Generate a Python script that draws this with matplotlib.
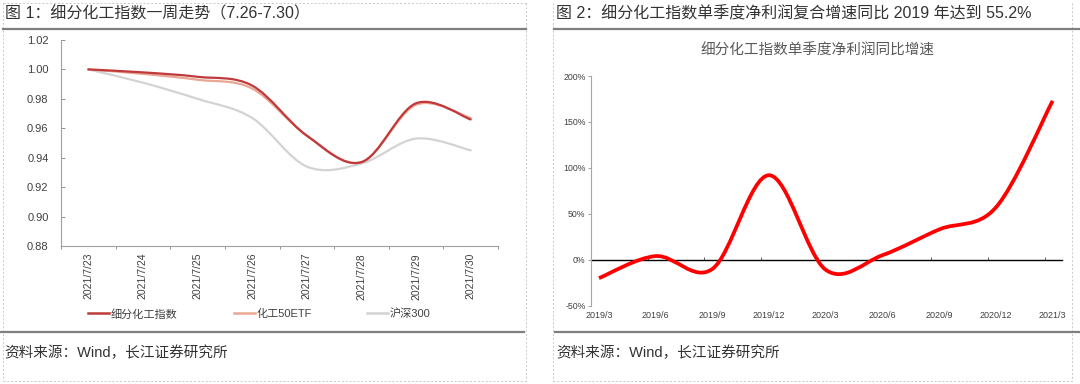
import numpy as np
import matplotlib
matplotlib.use('Agg')
import matplotlib.pyplot as plt
from matplotlib.path import Path
from matplotlib.patches import PathPatch
from matplotlib.lines import Line2D
from matplotlib.ticker import FormatStrFormatter, PercentFormatter, NullFormatter

plt.rcParams['font.family'] = ['Liberation Sans', 'Noto Sans CJK SC', 'DejaVu Sans']
plt.rcParams['axes.unicode_minus'] = False

# ---------------- data ----------------
dates = ['2021/7/23', '2021/7/24', '2021/7/25', '2021/7/26',
         '2021/7/27', '2021/7/28', '2021/7/29', '2021/7/30']
chem_index = [1.000, 0.998, 0.995, 0.989, 0.955, 0.937, 0.977, 0.966]
chem_etf = [1.000, 0.997, 0.993, 0.987, 0.955, 0.937, 0.976, 0.967]
hs300 = [1.000, 0.991, 0.980, 0.967, 0.934, 0.936, 0.953, 0.945]
series_names = ['细分化工指数', '化工50ETF', '沪深300']

quarters = ['2019/3', '2019/6', '2019/9', '2019/12', '2020/3',
            '2020/6', '2020/9', '2020/12', '2021/3']
profit_growth = [-20, 4, -10, 92, -11, 5, 33, 57, 173]

title_left = '图 1：细分化工指数一周走势（7.26-7.30）'
title_right = '图 2：细分化工指数单季度净利润复合增速同比 2019 年达到 55.2%'
chart_title_right = '细分化工指数单季度净利润同比增速'
source_text = '资料来源：Wind，长江证券研究所'

W, H = 1080, 384


def smooth_path(xs, ys):
    """Excel-style smoothed line (Catmull-Rom as cubic Bezier) through the data."""
    pts = np.column_stack([xs, ys]).astype(float)
    n = len(pts)
    verts = [pts[0]]
    codes = [Path.MOVETO]
    for i in range(n - 1):
        p0 = pts[max(i - 1, 0)]
        p1 = pts[i]
        p2 = pts[i + 1]
        p3 = pts[min(i + 2, n - 1)]
        c1 = p1 + (p2 - p0) / 6.0
        c2 = p2 - (p3 - p1) / 6.0
        verts += [c1, c2, p2]
        codes += [Path.CURVE4] * 3
    return Path(verts, codes)


def box(x0, y0, x1, y1):
    return [x0 / W, 1 - y1 / H, (x1 - x0) / W, (y1 - y0) / H]


def fline(x0, y0, x1, y1, **kw):
    fig.add_artist(Line2D([x0 / W, x1 / W], [1 - y0 / H, 1 - y1 / H],
                          transform=fig.transFigure, **kw))


fig = plt.figure(figsize=(W / 100, H / 100), dpi=100)

# ---------------- frame decorations ----------------
dash_kw = dict(color='#C8C8C8', lw=0.7, ls=(0, (2, 2)))
fline(3, 3, 3, 381, **dash_kw)
fline(526, 3, 526, 381, **dash_kw)
fline(3, 3, 526, 3, **dash_kw)
fline(3, 381, 526, 381, **dash_kw)
fline(553, 3, 553, 381, **dash_kw)
fline(1072, 3, 1072, 381, **dash_kw)
fline(553, 381, 1072, 381, **dash_kw)

sep_kw = dict(color='#7F7F7F', lw=1.6)
fline(3, 29, 526, 29, **sep_kw)
fline(554, 29, 1080, 29, **sep_kw)
fline(0, 332, 524, 332, **sep_kw)
fline(555, 332, 1080, 332, **sep_kw)

fig.text(5 / W, 1 - 14 / H, title_left, fontsize=11.5, color='#333333',
         va='center', ha='left')
fig.text(556 / W, 1 - 14 / H, title_right, fontsize=11.5, color='#333333',
         va='center', ha='left')
fig.text(4 / W, 1 - 353 / H, source_text, fontsize=10.5, color='#333333',
         va='center', ha='left')
fig.text(556 / W, 1 - 353 / H, source_text, fontsize=10.5, color='#333333',
         va='center', ha='left')

# ---------------- left chart ----------------
ax1 = fig.add_axes(box(61, 40, 498, 246))
x1 = np.arange(len(dates))
colors_left = ['#C0393B', '#E8A693', '#D3D3D3']
series_left = [chem_index, chem_etf, hs300]
# draw back-to-front so the index line sits on top
for vals, col in list(zip(series_left, colors_left))[::-1]:
    ax1.add_patch(PathPatch(smooth_path(x1, vals), fill=False, edgecolor=col,
                            lw=1.6, capstyle='round', joinstyle='round'))
handles = [Line2D([], [], color=col, lw=1.8, label=name)
           for col, name in zip(colors_left, series_names)]

ax1.set_xlim(-0.5, len(dates) - 0.5)
ax1.set_ylim(0.88, 1.02)
ax1.set_xticks(x1)
ax1.set_xticklabels(dates, rotation=90, fontsize=7.5, color='#404040')
ax1.set_xticks(np.arange(len(dates) + 1) - 0.5, minor=True)
ax1.tick_params(axis='x', which='major', length=0, pad=5)
ax1.tick_params(axis='x', which='minor', length=2.5, direction='out',
                color='#909090', width=0.7)
ax1.set_yticks(np.linspace(0.88, 1.02, 8))
ax1.yaxis.set_major_formatter(FormatStrFormatter('%.2f'))
ax1.tick_params(axis='y', direction='in', length=3, width=0.7,
                color='#909090', labelsize=8, labelcolor='#404040', pad=9)
for s in ['top', 'right']:
    ax1.spines[s].set_visible(False)
for s in ['left', 'bottom']:
    ax1.spines[s].set_color('#A0A0A0')
    ax1.spines[s].set_linewidth(0.8)

legend_x = [88, 234, 367]
for h, lx in zip(handles, legend_x):
    fig.legend(handles=[h], loc='center left',
               bbox_to_anchor=(lx / W, 1 - 314 / H), frameon=False,
               fontsize=8, handlelength=1.9, handletextpad=0.15,
               borderpad=0, borderaxespad=0, labelcolor='#404040')

# ---------------- right chart ----------------
ax2 = fig.add_axes(box(591, 76, 1061.7, 305.7))
x2 = np.arange(len(quarters))
ax2.add_patch(PathPatch(smooth_path(x2, profit_growth), fill=False,
                        edgecolor='#FF0000', lw=2.7, capstyle='butt',
                        joinstyle='round'))
ax2.set_xlim(-0.141, len(quarters) - 1 + 0.16)
ax2.set_ylim(-50, 200)
ax2.set_yticks(np.arange(-50, 201, 50))
ax2.yaxis.set_major_formatter(PercentFormatter(xmax=100, decimals=0))
ax2.tick_params(axis='y', direction='out', length=2.5, width=0.6,
                color='#909090', labelsize=6.3, labelcolor='#404040', pad=1.5)
ax2.set_xticks(x2)
ax2.set_xticklabels(quarters, fontsize=6.5, color='#404040')
ax2.tick_params(axis='x', which='major', length=0, pad=4)
for s in ['top', 'right', 'bottom']:
    ax2.spines[s].set_visible(False)
ax2.spines['left'].set_color('#A6A6A6')
ax2.spines['left'].set_linewidth(0.8)

zero_frac = (0 - (-50)) / (200 - (-50))
sec = ax2.secondary_xaxis(zero_frac)
sec.set_xticks(x2[1:] - 0.141)
sec.xaxis.set_major_formatter(NullFormatter())
sec.tick_params(axis='x', direction='in', length=2, width=0.6, color='#404040')
for s in sec.spines.values():
    s.set_color('black')
    s.set_linewidth(1.0)

fig.text(817 / W, 1 - 51 / H, chart_title_right, fontsize=10.5,
         color='#595959', ha='center', va='center')

fig.savefig('out.png', dpi=100)
